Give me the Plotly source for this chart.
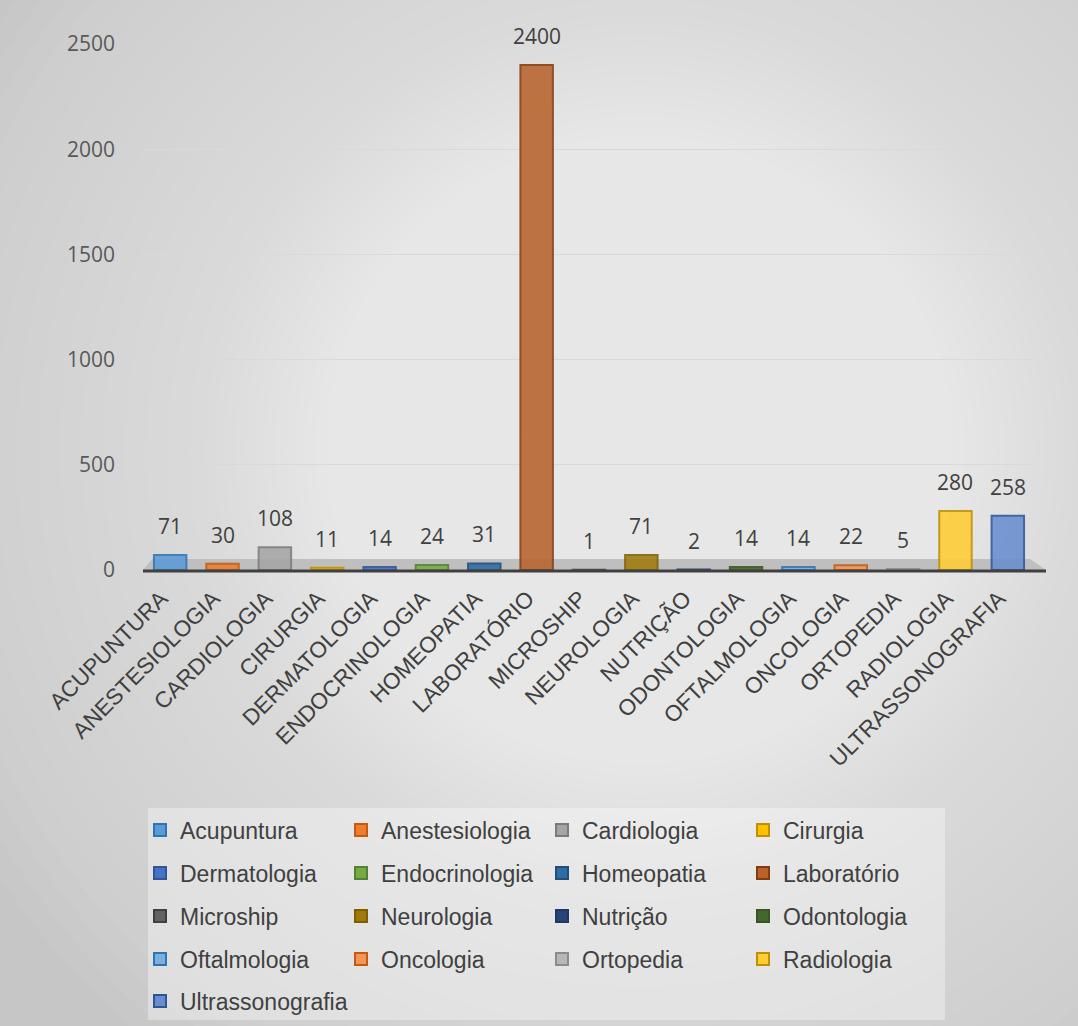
import numpy as np
import plotly.graph_objects as go

categories = ["ACUPUNTURA", "ANESTESIOLOGIA", "CARDIOLOGIA", "CIRURGIA", "DERMATOLOGIA",
              "ENDOCRINOLOGIA", "HOMEOPATIA", "LABORATÓRIO", "MICROSHIP", "NEUROLOGIA",
              "NUTRIÇÃO", "ODONTOLOGIA", "OFTALMOLOGIA", "ONCOLOGIA", "ORTOPEDIA",
              "RADIOLOGIA", "ULTRASSONOGRAFIA"]
series_names = ["Acupuntura", "Anestesiologia", "Cardiologia", "Cirurgia", "Dermatologia",
                "Endocrinologia", "Homeopatia", "Laboratório", "Microship", "Neurologia",
                "Nutrição", "Odontologia", "Oftalmologia", "Oncologia", "Ortopedia",
                "Radiologia", "Ultrassonografia"]
values = [71, 30, 108, 11, 14, 24, 31, 2400, 1, 71, 2, 14, 14, 22, 5, 280, 258]
fill_colors = ["#5B9BD5", "#ED7D31", "#A5A5A5", "#FFC000", "#4472C4", "#70AD47",
               "#2E6DA6", "#B8632D", "#636363", "#A07B0C", "#264478", "#43682B",
               "#7CAFDD", "#F1975A", "#B7B7B7", "#FFCD33", "#698ED0"]
line_colors = ["#2E75B6", "#C55A11", "#7B7B7B", "#BF9000", "#2F5597", "#548235",
               "#1F4E79", "#843C0C", "#404040", "#7F6000", "#1F3864", "#375623",
               "#2E75B6", "#C55A11", "#8C8C8C", "#BF9000", "#2F5597"]
y_ticks = [0, 500, 1000, 1500, 2000, 2500]

W, H = 1078, 1026
L, R, T, B = 144, 44, 44, 456
PW, PH = W - L - R, H - T - B


def px_x(p):
    return (p - L) / PW


def px_y(p):
    return (H - B - p) / PH


fig = go.Figure()
for i, (cat, name, v) in enumerate(zip(categories, series_names, values)):
    row = i // 4
    fig.add_trace(go.Bar(
        x=[cat], y=[v], name=name,
        marker=dict(color=fill_colors[i], opacity=0.88,
                    line=dict(color=line_colors[i], width=2)),
        width=0.62,
        legend="legend" if row == 0 else f"legend{row + 1}",
    ))

annotations = []
for cat, v in zip(categories, values):
    annotations.append(dict(x=cat, y=v, xref="x", yref="y", text=str(v), showarrow=False,
                            yanchor="bottom", yshift=13,
                            font=dict(family="Open Sans", size=21, color="#404040")))

shapes = []
# radial background glow (stacked translucent white discs)
cx, cy = 640, 450
n = 60
alpha = 0.0377
d_knots = [0, 440, 686, 780]
c_knots = [60, 16, 4.6, 0]
radii = [float(np.interp(k - 0.5, c_knots[::-1], d_knots[::-1])) for k in range(1, n + 1)]
for r in sorted(radii, reverse=True):
    shapes.append(dict(type="circle", xref="paper", yref="paper", layer="below",
                       x0=px_x(cx - r), x1=px_x(cx + r), y0=px_y(cy + r), y1=px_y(cy - r),
                       fillcolor=f"rgba(255,255,255,{alpha})", line=dict(width=0)))
# legend box
shapes.append(dict(type="rect", xref="paper", yref="paper", layer="below",
                   x0=px_x(148), x1=px_x(945), y0=px_y(1020), y1=px_y(808),
                   fillcolor="rgba(255,255,255,0.35)", line=dict(width=0)))
# floor
shapes.append(dict(type="path", xref="paper", yref="paper", layer="below",
                   path=f"M {px_x(152)},{px_y(559)} L {px_x(1030)},{px_y(559)} L {px_x(1046)},{px_y(570)} L {px_x(143)},{px_y(570)} Z",
                   fillcolor="#BFBFBF", line=dict(width=0)))
shapes.append(dict(type="line", xref="paper", yref="paper", layer="above",
                   x0=px_x(143), x1=px_x(1046), y0=px_y(571), y1=px_y(571),
                   line=dict(color="#404040", width=3)))

row_centers = [830, 873, 916, 959, 1001]
legend_common = dict(orientation="h", bgcolor="rgba(0,0,0,0)", borderwidth=0,
                     font=dict(family="Liberation Sans, Arial", size=23, color="#404040"),
                     entrywidth=156, entrywidthmode="pixels", itemclick=False,
                     x=px_x(140), xanchor="left", yanchor="middle", traceorder="normal")

layout_legends = {}
for r_i, yc in enumerate(row_centers):
    key = "legend" if r_i == 0 else f"legend{r_i + 1}"
    layout_legends[key] = dict(legend_common, y=px_y(yc))
layout_legends["legend5"]["entrywidth"] = 300

fig.update_layout(
    width=W, height=H,
    margin=dict(l=L, r=R, t=T, b=B, autoexpand=False),
    paper_bgcolor="#C6C6C6",
    plot_bgcolor="rgba(0,0,0,0)",
    barmode="overlay",
    showlegend=True,
    shapes=shapes,
    annotations=annotations,
    xaxis=dict(categoryorder="array", categoryarray=categories, tickangle=-45,
               tickfont=dict(family="Liberation Sans, Arial", size=22.5, color="#404040"),
               showgrid=False, showline=False, zeroline=False, ticks="", range=[-0.5, 16.5],
               ticklabelstandoff=10, ticklabelshift=-9),
    yaxis=dict(range=[0, 2500], tickvals=y_ticks, showgrid=True, gridcolor="#D9D9D9",
               gridwidth=1, zeroline=False, showline=False,
               tickfont=dict(family="Open Sans", size=21, color="#595959"),
               ticklabelstandoff=28),
    **layout_legends,
)

fig.write_html("out.html", config={"displayModeBar": False},
               post_script="document.body.style.margin='0';")
